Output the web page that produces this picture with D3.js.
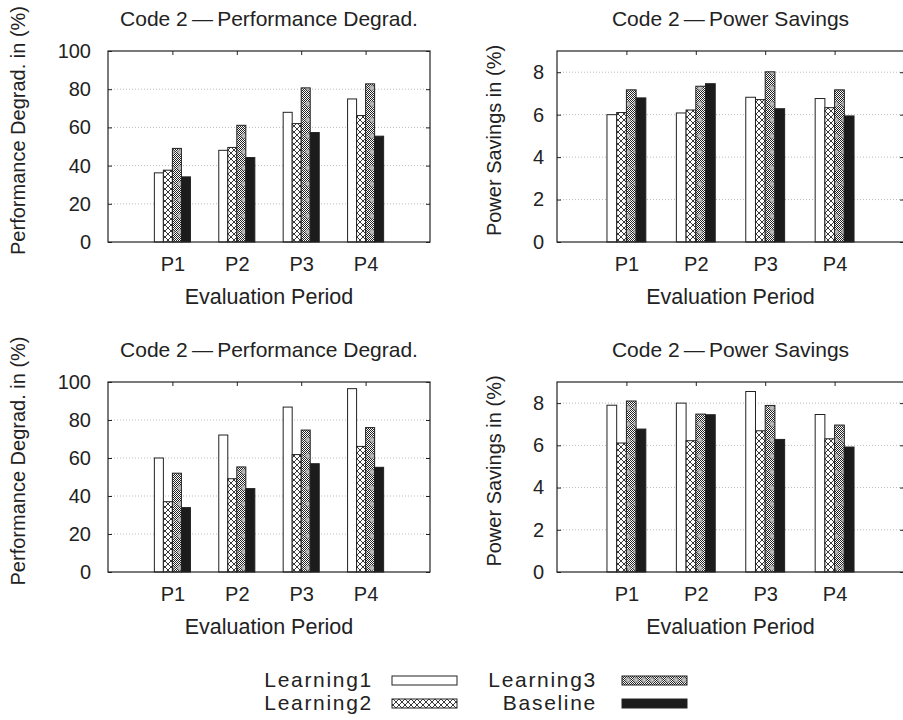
<!DOCTYPE html>
<html>
<head>
<meta charset="utf-8">
<script src="https://cdn.jsdelivr.net/npm/d3@7"></script>
<style>
  body { margin: 0; background: #fff; }
  text { font-family: "Liberation Sans", Arial, sans-serif; fill: #222; }
</style>
</head>
<body>
<div id="container"></div>
<script>
const periods = ["P1", "P2", "P3", "P4"]
const series = ["Learning1", "Learning2", "Learning3", "Baseline"]

// rows = periods, cols = series
const perfTop = [
    [36.2, 37.6, 49.0, 34.1],
    [48.0, 49.5, 61.1, 44.2],
    [67.9, 62.0, 80.7, 57.3],
    [74.9, 66.2, 82.8, 55.4]
]
const powerTop = [
    [6.00, 6.10, 7.17, 6.79],
    [6.08, 6.22, 7.34, 7.46],
    [6.82, 6.71, 8.02, 6.28],
    [6.76, 6.33, 7.17, 5.94]
]
const perfBottom = [
    [60.0, 37.0, 52.0, 33.9],
    [72.1, 49.1, 55.3, 43.9],
    [86.8, 61.8, 74.7, 57.0],
    [96.5, 66.1, 76.0, 55.1]
]
const powerBottom = [
    [7.90, 6.11, 8.10, 6.77],
    [8.00, 6.22, 7.48, 7.45],
    [8.55, 6.69, 7.89, 6.28],
    [7.46, 6.31, 6.96, 5.92]
]
const perfTicks = [0, 20, 40, 60, 80, 100]
const powerTicks = [0, 2, 4, 6, 8]

const width = 903
const height = 720

const svg = d3.create("svg")
    .attr("width", width)
    .attr("height", height)

const defs = svg.append("defs")

// Learning2: cross hatch
const p2 = defs.append("pattern")
    .attr("id", "pat-l2")
    .attr("patternUnits", "userSpaceOnUse")
    .attr("width", 6).attr("height", 6)
p2.append("rect").attr("width", 6).attr("height", 6).attr("fill", "#fff")
p2.append("path")
    .attr("d", "M0,0L6,6M6,0L0,6")
    .attr("stroke", "#222").attr("stroke-width", 0.9)

// Learning3: dense stipple with grey rings
const p3 = defs.append("pattern")
    .attr("id", "pat-l3")
    .attr("patternUnits", "userSpaceOnUse")
    .attr("width", 8).attr("height", 16)
p3.append("rect").attr("width", 8).attr("height", 16).attr("fill", "#fff")
for (let i = 0; i < 8; i++) {
    for (let j = 0; j < 16; j++) {
        if ((i + j) % 2 === 0) {
            p3.append("rect").attr("x", i).attr("y", j).attr("width", 1).attr("height", 1).attr("fill", "#222")
        }
    }
}
p3.append("circle").attr("cx", 4).attr("cy", 8).attr("r", 2.4)
    .attr("fill", "#bbb").attr("stroke", "#777").attr("stroke-width", 0.6)

const fills = ["#fff", "url(#pat-l2)", "url(#pat-l3)", "#1c1c1c"]

const panels = [
    {data: perfTop, ticks: perfTicks, max: 100, left: 108, right: 430, top: 51, bottom: 242,
     title: "Code 2\u2009\u2014\u2009Performance Degrad.", ylabel: "Performance Degrad. in (%)", pad: 17, labelX: 90, labelShift: -16},
    {data: powerTop, ticks: powerTicks, max: 9, left: 557, right: 904, top: 51, bottom: 242,
     title: "Code 2\u2009\u2014\u2009Power Savings", ylabel: "Power Savings in (%)", pad: 13, labelX: 63, labelShift: -6},
    {data: perfBottom, ticks: perfTicks, max: 100, left: 108, right: 430, top: 382, bottom: 572,
     title: "Code 2\u2009\u2014\u2009Performance Degrad.", ylabel: "Performance Degrad. in (%)", pad: 17, labelX: 90, labelShift: -16},
    {data: powerBottom, ticks: powerTicks, max: 9, left: 557, right: 904, top: 382, bottom: 572,
     title: "Code 2\u2009\u2014\u2009Power Savings", ylabel: "Power Savings in (%)", pad: 13, labelX: 63, labelShift: -6}
]

const barW = 0.14

panels.forEach(p => {
    const g = svg.append("g")

    const x = d3.scaleLinear().domain([0, 5]).range([p.left, p.right])
    const y = d3.scaleLinear().domain([0, p.max]).range([p.bottom, p.top])

    // grid
    g.append("g").selectAll("line")
        .data(p.ticks.filter(t => t > 0 && t < p.max))
        .join("line")
        .attr("x1", p.left).attr("x2", p.right)
        .attr("y1", d => y(d)).attr("y2", d => y(d))
        .attr("stroke", "#aaa").attr("stroke-width", 0.8)
        .attr("stroke-dasharray", "1,2")

    // bars
    const groups = g.append("g").selectAll("g")
        .data(p.data)
        .join("g")

    groups.selectAll("rect")
        .data((row, pi) => row.map((v, si) => ({v, si, pi})))
        .join("rect")
        .attr("x", d => x(d.pi + 1 + (d.si - 2) * barW))
        .attr("y", d => y(d.v))
        .attr("width", d => x(barW) - x(0))
        .attr("height", d => y(0) - y(d.v))
        .attr("fill", d => fills[d.si])
        .attr("stroke", "#222")
        .attr("stroke-width", 1)

    // axes
    const yAxis = g.append("g")
        .attr("transform", `translate(${p.left},0)`)
        .call(d3.axisLeft(y).tickValues(p.ticks).tickSize(-4).tickSizeOuter(0).tickPadding(p.pad))
    yAxis.select(".domain").remove()
    yAxis.selectAll("text").style("font-size", "20px").attr("fill", "#222")
    yAxis.selectAll("line").attr("stroke", "#222")

    const yAxisR = g.append("g")
        .attr("transform", `translate(${p.right},0)`)
        .call(d3.axisRight(y).tickValues(p.ticks).tickSize(-4).tickSizeOuter(0).tickFormat(""))
    yAxisR.select(".domain").remove()
    yAxisR.selectAll("line").attr("stroke", "#222")

    const xAxis = g.append("g")
        .attr("transform", `translate(0,${p.bottom})`)
        .call(d3.axisBottom(x).tickValues([1, 2, 3, 4]).tickSize(-4).tickSizeOuter(0)
            .tickPadding(15).tickFormat(d => periods[d - 1]))
    xAxis.select(".domain").remove()
    xAxis.selectAll("text").style("font-size", "20px").attr("fill", "#222")
    xAxis.selectAll("line").attr("stroke", "#222")

    const xAxisT = g.append("g")
        .attr("transform", `translate(0,${p.top})`)
        .call(d3.axisTop(x).tickValues([1, 2, 3, 4]).tickSize(-4).tickSizeOuter(0).tickFormat(""))
    xAxisT.select(".domain").remove()
    xAxisT.selectAll("line").attr("stroke", "#222")

    // frame
    g.append("rect")
        .attr("x", p.left).attr("y", p.top)
        .attr("width", p.right - p.left).attr("height", p.bottom - p.top)
        .attr("fill", "none").attr("stroke", "#222").attr("stroke-width", 1.2)

    // title
    g.append("text")
        .attr("x", (p.left + p.right) / 2)
        .attr("y", p.top - 25)
        .attr("text-anchor", "middle")
        .style("font-size", "21px")
        .text(p.title)

    g.append("text")
        .attr("x", (p.left + p.right) / 2)
        .attr("y", p.bottom + 62)
        .attr("text-anchor", "middle")
        .style("font-size", "21.5px")
        .text("Evaluation Period")

    const cy = (p.top + p.bottom) / 2 + p.labelShift
    g.append("text")
        .attr("transform", `translate(${p.left - p.labelX + 7},${cy}) rotate(-90)`)
        .attr("text-anchor", "middle")
        .style("font-size", "20px")
        .text(p.ylabel)
})

// legend
const legendPos = [
    {tx: 373, sx: 392, y: 687},
    {tx: 373, sx: 392, y: 710},
    {tx: 597, sx: 622, y: 687},
    {tx: 597, sx: 622, y: 710}
]
const legend = svg.append("g").attr("id", "legend")
series.forEach((s, i) => {
    const lp = legendPos[i]
    legend.append("text")
        .attr("x", lp.tx).attr("y", lp.y)
        .attr("text-anchor", "end")
        .style("font-size", "21px")
        .style("letter-spacing", "1.7px")
        .text(s)
    legend.append("rect")
        .attr("x", lp.sx).attr("y", lp.y - 11)
        .attr("width", 65).attr("height", 9)
        .attr("fill", fills[i])
        .attr("stroke", "#222").attr("stroke-width", 1)
})

document.querySelector("#container").appendChild(svg.node())
</script>
</body>
</html>
